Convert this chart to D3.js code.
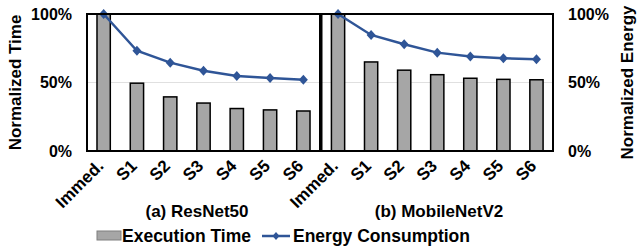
<!DOCTYPE html>
<html>
<head>
<meta charset="utf-8">
<script src="https://cdn.jsdelivr.net/npm/d3@7"></script>
<style>
  body { margin: 0; background: #fff; }
  svg { display: block; font-family: "Liberation Sans", Arial, sans-serif; font-weight: bold; }
</style>
</head>
<body>
<div id="chart"></div>
<script>
// data (percent, normalized to Immed.)
var categories = ["Immed.", "S1", "S2", "S3", "S4", "S5", "S6"];
var resnetTime = [100, 49.5, 39.5, 35, 31, 30, 29.2];
var resnetEnergy = [100, 73.2, 64.5, 58.6, 54.7, 53.3, 52];
var mobileTime = [100, 65, 59, 55.7, 53.1, 52.3, 52];
var mobileEnergy = [100, 84.7, 77.9, 71.8, 68.9, 67.7, 66.9];
var yTicks = [0, 50, 100];
var panelTitles = ["(a) ResNet50", "(b) MobileNetV2"];
var legendLabels = ["Execution Time", "Energy Consumption"];

var width = 637, height = 248;
var blue = "#2f5597", barGray = "#a6a6a6";

var svg = d3.select("#chart").append("svg")
    .attr("width", width)
    .attr("height", height);

var plotTop = 14, plotBottom = 151;
var y = d3.scaleLinear().domain([0, 100]).range([plotBottom, plotTop]);

var panels = [
  {x0: 87, x1: 320, titleX: 197, title: panelTitles[0], time: resnetTime, energy: resnetEnergy},
  {x0: 321.5, x1: 553, titleX: 439, title: panelTitles[1], time: mobileTime, energy: mobileEnergy}
];

var diamond = "M0,-5L4.5,0L0,5L-4.5,0Z";

panels.forEach(function(p, pi) {
  var x = d3.scaleBand().domain(categories).range([p.x0, p.x1]).padding(0);
  var g = svg.append("g");

  // 50% gridline
  g.append("line")
      .attr("x1", p.x0).attr("x2", p.x1)
      .attr("y1", y(50)).attr("y2", y(50))
      .attr("stroke", "#e0e0e0").attr("stroke-width", 1);

  // bars
  var bw = x.bandwidth() * 0.4;
  g.selectAll("rect.bar")
      .data(p.time)
    .enter().append("rect")
      .attr("class", "bar")
      .attr("x", function(d, i) { return x(categories[i]) + x.bandwidth() / 2 - bw / 2; })
      .attr("y", function(d) { return y(d); })
      .attr("width", bw)
      .attr("height", function(d) { return y(0) - y(d); })
      .attr("fill", barGray)
      .attr("stroke", "#000")
      .attr("stroke-width", 1.5);

  // energy line
  var line = d3.line()
      .x(function(d, i) { return x(categories[i]) + x.bandwidth() / 2; })
      .y(function(d) { return y(d); });
  g.append("path")
      .datum(p.energy)
      .attr("d", line)
      .attr("fill", "none")
      .attr("stroke", blue)
      .attr("stroke-width", 2.5);
  g.selectAll("path.mk")
      .data(p.energy)
    .enter().append("path")
      .attr("class", "mk")
      .attr("d", diamond)
      .attr("fill", blue)
      .attr("transform", function(d, i) {
        return "translate(" + (x(categories[i]) + x.bandwidth() / 2) + "," + y(d) + ")";
      });

  // frame
  g.append("rect")
      .attr("x", p.x0).attr("y", plotTop)
      .attr("width", p.x1 - p.x0).attr("height", plotBottom - plotTop)
      .attr("fill", "none").attr("stroke", "#000").attr("stroke-width", 2);

  // rotated category labels
  g.selectAll("text.cat")
      .data(categories)
    .enter().append("text")
      .attr("class", "cat")
      .attr("text-anchor", "end")
      .attr("font-size", 17)
      .attr("transform", function(d) {
        return "translate(" + (x(d) + x.bandwidth() / 2 + 1) + "," + 167 + ") rotate(-45)";
      })
      .text(function(d) { return d; });

  // panel subtitle
  g.append("text")
      .attr("x", p.titleX)
      .attr("y", 217)
      .attr("text-anchor", "middle")
      .attr("font-size", 17)
      .text(p.title);
});

// left and right axes
var leftAxis = d3.axisLeft(y).tickValues(yTicks).tickSize(0).tickPadding(15)
    .tickFormat(function(d) { return d + "%"; });
var rightAxis = d3.axisRight(y).tickValues(yTicks).tickSize(0).tickPadding(15)
    .tickFormat(function(d) { return d + "%"; });

svg.append("g").attr("transform", "translate(87,0)").call(leftAxis)
  .call(function(g) { g.select(".domain").remove(); })
  .selectAll("text").attr("font-size", 16).attr("font-family", null).attr("fill", "#000");
svg.append("g").attr("transform", "translate(553,0)").call(rightAxis)
  .call(function(g) { g.select(".domain").remove(); })
  .selectAll("text").attr("font-size", 16).attr("font-family", null).attr("fill", "#000");
svg.selectAll(".tick text").attr("font-weight", "bold");

// axis titles
svg.append("text")
    .attr("transform", "translate(21," + ((plotTop + plotBottom) / 2) + ") rotate(-90)")
    .attr("text-anchor", "middle")
    .attr("font-size", 17)
    .text("Normalized Time");
svg.append("text")
    .attr("transform", "translate(633," + ((plotTop + plotBottom) / 2) + ") rotate(-90)")
    .attr("text-anchor", "middle")
    .attr("font-size", 17)
    .text("Normalized Energy");

// legend
var lg = svg.append("g");
lg.append("rect")
    .attr("x", 97).attr("y", 231).attr("width", 24).attr("height", 9)
    .attr("fill", barGray).attr("stroke", "#7f7f7f").attr("stroke-width", 1);
lg.append("text")
    .attr("x", 122).attr("y", 242)
    .attr("font-size", 17.5)
    .text(legendLabels[0]);
lg.append("line")
    .attr("x1", 262).attr("x2", 290).attr("y1", 236).attr("y2", 236)
    .attr("stroke", blue).attr("stroke-width", 2.5);
lg.append("path")
    .attr("d", "M0,-4L3.5,0L0,4L-3.5,0Z")
    .attr("fill", blue)
    .attr("transform", "translate(276,236)");
lg.append("text")
    .attr("x", 293).attr("y", 242)
    .attr("font-size", 17.5)
    .text(legendLabels[1]);
</script>
</body>
</html>
